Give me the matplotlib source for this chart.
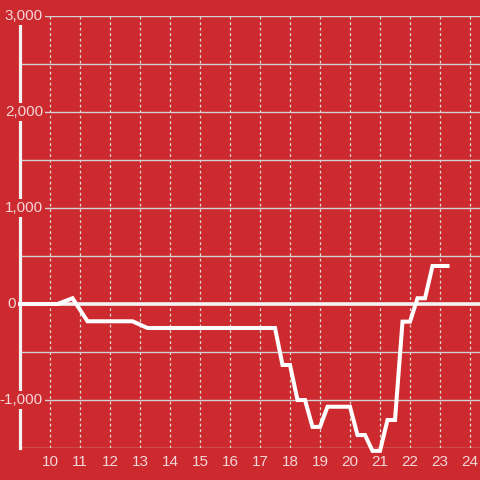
import matplotlib
matplotlib.use('Agg')
import matplotlib.pyplot as plt

# values
hours = [9.0, 10.25, 10.75, 11.25, 12.75, 13.25, 17.5, 17.75, 18.0, 18.25, 18.5,
         18.75, 19.0, 19.25, 20.0, 20.25, 20.5, 20.75, 21.0, 21.25, 21.5, 21.75,
         22.0, 22.25, 22.5, 22.75, 23.25]
values = [0, 0, 60, -180, -180, -250, -250, -635, -635, -1000, -1000,
          -1280, -1280, -1070, -1070, -1365, -1365, -1530, -1530, -1208, -1208, -184,
          -184, 60, 60, 396, 396]

x_ticks = list(range(10, 25))
y_grid = [-1500, -1000, -500, 0, 500, 1000, 1500, 2000, 2500, 3000]
y_labels = [-1000, 0, 1000, 2000, 3000]

bg = '#cc2a2f'
label_color = '#f3d6d7'

plt.rcParams['font.family'] = ['Liberation Sans', 'DejaVu Sans']

fig = plt.figure(figsize=(4.8, 4.8), dpi=100)
fig.patch.set_facecolor(bg)
ax = fig.add_axes([20 / 480, 32 / 480, 460 / 480, 432 / 480])
ax.set_facecolor(bg)

ax.set_xlim(9.0, 24.333)
ax.set_ylim(-1500, 3000)

# grid
ax.set_xticks(x_ticks)
ax.set_yticks(y_grid)
ax.set_yticklabels([])
ax.tick_params(axis='both', length=0)
ax.tick_params(axis='x', colors=label_color, labelsize=11, pad=5)
ax.grid(axis='y', color='#d2d2d2', linewidth=1.0, linestyle='-')
ax.grid(axis='x', color='#dcdcd0', linewidth=0.9, linestyle=(0, (2.2, 2.2)))
ax.set_axisbelow(True)

for side in ['top', 'right', 'bottom']:
    ax.spines[side].set_visible(False)
ax.spines['left'].set_color('#f2f2f2')
ax.spines['left'].set_linewidth(2.3)

# zero line
ax.axhline(0, color='#f4f4f4', linewidth=2.6, zorder=3)

# data line
ax.plot(hours, values, color='white', linewidth=2.9, solid_joinstyle='miter',
        clip_on=False, zorder=4)

# y labels sit on top of the spine with a background box
ytrans = ax.get_yaxis_transform()
for v in y_labels:
    # short labels end left of the spine, long ones run over it
    right_px = -4 if v == 0 else 23
    ax.text(right_px / 460, v, f'{v:,}', transform=ytrans, ha='right', va='center',
            fontsize=11, color=label_color, zorder=6, clip_on=False,
            bbox=dict(boxstyle='square,pad=0.15', facecolor=bg, edgecolor='none'))

fig.savefig('out.png', dpi=100, facecolor=bg)
